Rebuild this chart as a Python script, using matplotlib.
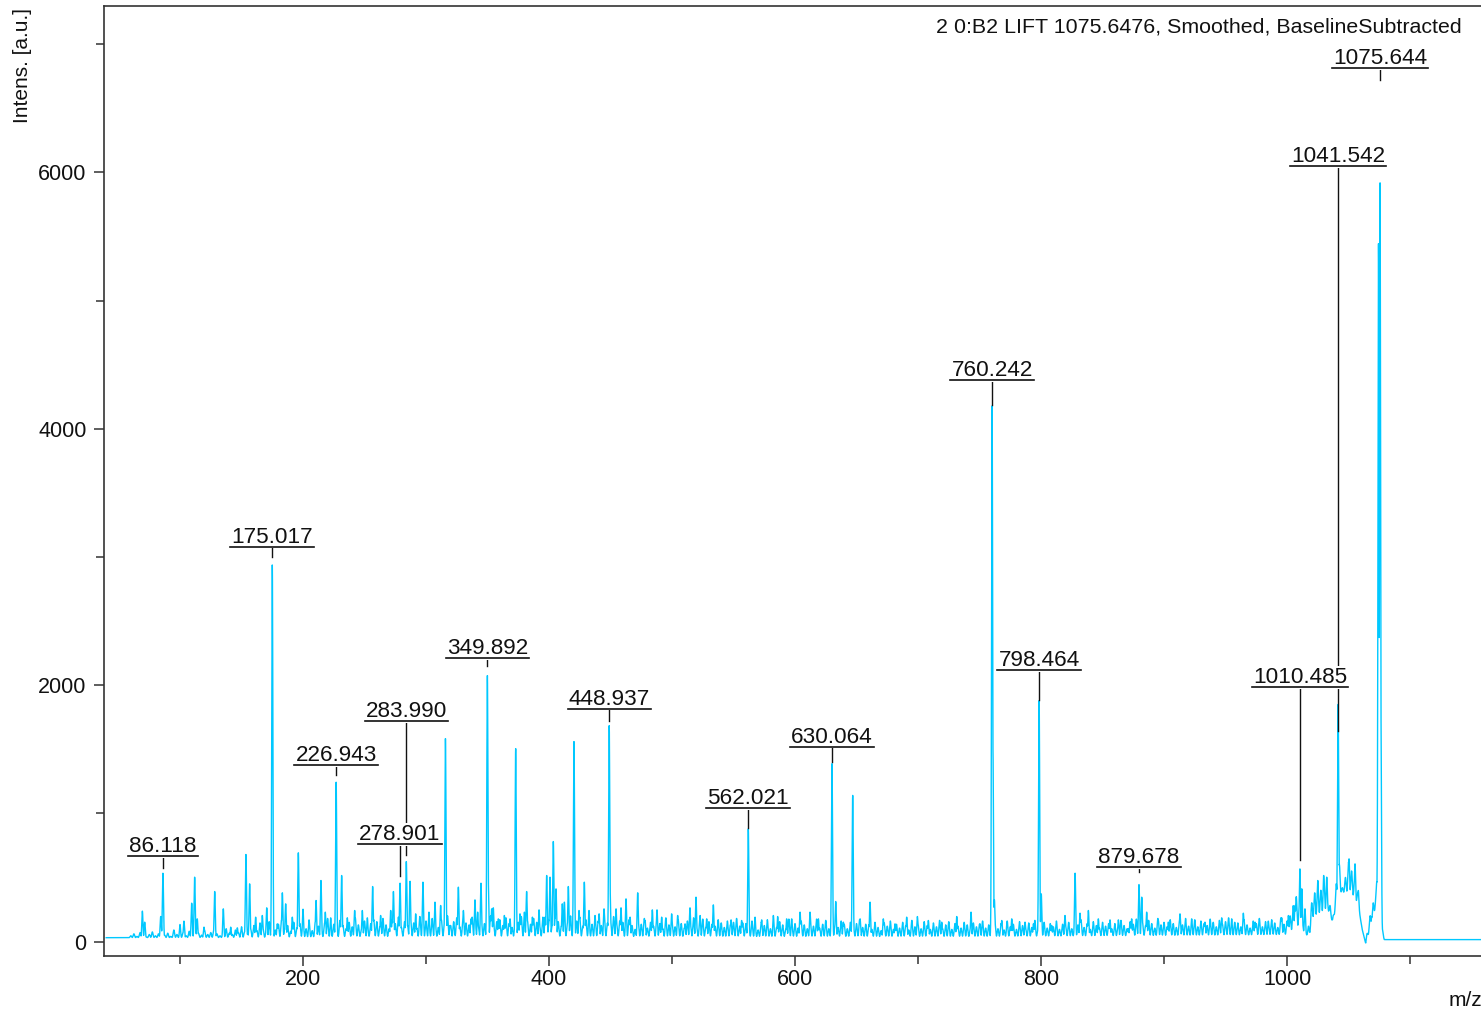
import numpy as np
import matplotlib
matplotlib.use("Agg")
import matplotlib.pyplot as plt
from matplotlib.ticker import MultipleLocator

plt.rcParams['font.family'] = ['Liberation Sans', 'DejaVu Sans']

# ---------------- data ----------------
# labelled peaks
label_mz = [86.118, 175.017, 226.943, 278.901, 283.990, 349.892, 448.937,
            562.021, 630.064, 760.242, 798.464, 879.678, 1010.485, 1041.542, 1075.644]
label_text = ["86.118", "175.017", "226.943", "278.901", "283.990", "349.892", "448.937",
              "562.021", "630.064", "760.242", "798.464", "879.678", "1010.485", "1041.542", "1075.644"]
label_int = [533, 2940, 1243, 455, 624, 2075, 1685, 880, 1388, 4180, 1880, 445, 567, 1850, 5920]
# height of the label underline and bottom end of its leader line
label_top = [667, 3082, 1377, 761, 1720, 2209, 1818, 1038, 1521, 4381, 2118, 581, 1986, 6052, 6815]
label_end = [573, 3000, 1299, 511, 675, 2146, 1724, 882, 1404, 4186, 1884, 542, 636, 1642, 6722]

# other (unlabelled) peaks
other_mz = [315.8, 372.9, 403.5, 420.3, 646.9, 827.7, 153.6, 196.2, 111.9, 760.9,
            1074.4, 1076.3, 1041.9,
            69.4, 71.3, 84.3, 100.0, 103.2, 109.5, 114.0, 119.5, 128.2, 135.2, 141.2,
            146.6, 156.6, 161.5, 166.9, 170.5, 179.1, 183.2, 185.9, 191.3, 200.0,
            204.9, 210.6, 214.6, 218.1, 222.5, 231.4, 236.0, 242.0, 248.2, 252.3,
            256.6, 263.1, 271.3, 273.5, 287.0, 291.6, 297.5, 302.4, 307.3, 311.9,
            319.5, 326.3, 330.4, 336.6, 339.8, 342.0, 344.7, 350.5, 353.4, 354.7,
            358.8, 363.7, 368.3, 376.4, 380.0, 381.8, 386.5, 391.9, 396.8, 398.1,
            400.8, 405.7, 410.8, 412.5, 415.7, 424.4, 428.7, 432.5, 437.4, 440.7,
            444.7, 449.6, 454.5, 458.5, 462.6, 465.9, 472.1, 478.1, 484.0, 487.8,
            491.6, 499.7, 504.6, 510.6, 514.6, 519.5, 522.8, 528.2, 533.6, 537.7,
            548.0, 552.6, 556.6, 567.5, 572.9, 582.4, 585.9, 593.2, 597.3, 604.1,
            612.2, 619.0, 633.1, 639.3, 652.9, 661.0, 671.8, 681.3, 690.8, 699.5,
            708.4, 719.3, 731.5, 743.1, 750.4, 762.1, 768.1, 776.2, 787.0, 793.8,
            800.2, 808.7, 819.5, 831.7, 838.5, 846.6, 856.1, 862.9, 871.0, 873.7,
            881.9, 885.9, 895.4, 903.5, 913.0, 922.5, 933.3, 946.9, 955.0, 964.5,
            974.0, 984.8, 995.7, 1001.1, 1006.5, 1012.0, 1014.6, 1025.0, 1029.8, 1032.3,
            1047.2, 1050.4, 1055.3, 1058.0, 1068.8, 1072.9]
other_int = [1583, 1505, 780, 1560, 1140, 533, 679, 692, 502, 1500,
             5445, 1830, 710,
             237, 151, 195, 133, 159, 299, 177, 112, 390, 255, 112,
             107, 450, 190, 203, 263, 138, 380, 294, 190, 252,
             169, 320, 476, 229, 185, 515, 185, 242, 242, 185,
             429, 203, 242, 390, 470, 216, 463, 229, 307, 281,
             125, 424, 242, 177, 325, 229, 455, 515, 255, 263,
             177, 203, 177, 216, 229, 390, 190, 247, 190, 515,
             502, 411, 294, 307, 429, 242, 463, 242, 203, 216,
             255, 411, 255, 263, 333, 190, 380, 164, 247, 247,
             190, 216, 203, 138, 263, 346, 203, 177, 286, 138,
             169, 169, 164, 190, 169, 203, 195, 177, 177, 229,
             229, 177, 312, 151, 177, 307, 177, 138, 190, 195,
             164, 151, 195, 229, 138, 325, 164, 177, 151, 138,
             372, 125, 203, 221, 242, 177, 169, 169, 99, 177,
             346, 229, 164, 151, 216, 177, 151, 185, 177, 221,
             151, 159, 185, 203, 281, 411, 255, 476, 515, 502,
             320, 645, 606, 398, 190, 463]

# background noise tops, one every 2.5 m/z starting at m/z 60
noise_start, noise_step = 60.0, 2.5
noise_int = [
    45, 60, 40, 70, 50, 35, 55, 75, 45, 60, 85, 50, 65, 40, 90, 55, 50, 70, 45, 80,
    60, 95, 65, 50, 85, 55, 70, 90, 60, 45, 75, 100, 65, 55, 90, 70, 115, 75, 60, 95,
    125, 85, 145, 100, 75, 155, 115, 90, 135, 165, 95, 125, 80, 150, 105, 140, 175, 100, 130, 85,
    155, 120, 95, 145, 180, 110, 135, 90, 165, 125, 100, 150, 115, 185, 130, 95, 160, 105, 140, 170,
    155, 115, 180, 130, 100, 165, 140, 190, 110, 155, 125, 175, 145, 105, 195, 135, 160, 120, 180, 150,
    110, 170, 140, 200, 125, 155, 185, 115, 165, 145, 130, 190, 155, 120, 175, 140, 165, 200, 130, 155,
    170, 125, 185, 140, 110, 175, 150, 195, 120, 160, 135, 180, 150, 115, 190, 140, 165, 125, 185, 155,
    120, 175, 145, 200, 130, 160, 190, 120, 170, 150, 135, 185, 160, 125, 180, 145, 170, 195, 135, 160,
    150, 110, 170, 125, 95, 160, 135, 180, 105, 150, 120, 165, 140, 100, 185, 130, 150, 115, 170, 140,
    105, 160, 130, 185, 115, 145, 175, 110, 155, 135, 120, 170, 145, 110, 160, 130, 150, 180, 120, 145,
    140, 100, 160, 115, 90, 150, 125, 170, 100, 140, 110, 155, 130, 95, 175, 120, 140, 105, 160, 130,
    100, 150, 120, 175, 105, 135, 165, 100, 145, 125, 110, 160, 135, 100, 150, 120, 140, 170, 110, 135,
    130, 95, 150, 110, 85, 145, 120, 160, 95, 135, 105, 150, 125, 90, 165, 115, 135, 100, 155, 125,
    95, 145, 115, 165, 100, 130, 155, 95, 140, 120, 105, 150, 130, 95, 145, 115, 135, 160, 105, 130,
    120, 150, 100, 140, 90, 160, 115, 135, 95, 155, 125, 100, 145, 110, 165, 90, 130, 150, 105, 140,
    115, 160, 95, 135, 120, 150, 100, 145, 130, 170, 110, 140, 95, 155, 125, 105, 150, 120, 140, 100,
    140, 110, 165, 125, 100, 155, 135, 175, 110, 150, 125, 165, 140, 105, 180, 130, 150, 115, 170, 140,
    110, 160, 130, 180, 120, 150, 170, 115, 160, 140, 125, 175, 150, 115, 165, 135, 155, 185, 125, 150,
    145, 115, 170, 130, 105, 160, 140, 180, 115, 155, 130, 170, 145, 110, 185, 135, 160, 200, 280, 350,
    260, 150, 70, 120, 300, 380, 450, 400, 480, 350, 280, 200, 450, 600, 420, 500, 620, 550, 480, 380,
    150, 40, 60, 200, 300, 380, 450, 100]

# baseline level under the noise
base_mz = [40, 60, 130, 170, 250, 350, 450, 550, 650, 750, 850, 950, 1000, 1008,
           1016, 1018, 1021, 1033, 1037, 1043, 1052, 1058, 1061, 1064, 1067, 1071,
           1073.5, 1077.5, 1079, 1170]
base_int = [30, 30, 30, 30, 35, 35, 35, 35, 35, 35, 40, 45, 50, 120,
            50, 30, 180, 250, 150, 380, 380, 280, 100, -20, 80, 220,
            380, 60, 15, 15]

x_ticks = [200, 400, 600, 800, 1000]
y_ticks = [0, 2000, 4000, 6000]
title_text = "2 0:B2 LIFT 1075.6476, Smoothed, BaselineSubtracted"

# ---------------- build spectrum trace ----------------
mz = np.arange(40.0, 1170.0, 0.05)
base = np.interp(mz, base_mz, base_int)
noise_mz = noise_start + noise_step * np.arange(len(noise_int))
pk_mz = np.concatenate([label_mz, other_mz, noise_mz])
pk_h = np.concatenate([label_int, other_int, noise_int]).astype(float)
sig = np.concatenate([np.full(len(label_mz) + len(other_mz), 0.45),
                      np.full(len(noise_int), 0.55)])
amp = np.maximum(pk_h - np.interp(pk_mz, base_mz, base_int), 0)
top = np.zeros_like(mz)
for m, a, s in zip(pk_mz, amp, sig):
    sl = np.abs(mz - m) < 5 * s
    top[sl] = np.maximum(top[sl], a * np.exp(-0.5 * ((mz[sl] - m) / s) ** 2))
spec = base + top

# ---------------- figure ----------------
W, H = 1481, 1015
fig = plt.figure(figsize=(W / 100, H / 100), dpi=100)
x0, x1 = 38.2, 1165.0
px_per = 1.23
ax_left = 104 / W
ax_w = (x1 - x0) * px_per / W
ax_bot = 1 - 955.5 / H
ax_top = 1 - 6 / H
ax = fig.add_axes([ax_left, ax_bot, ax_w, ax_top - ax_bot])
ax.set_xlim(x0, x1)
ax.set_ylim(-109, 7299)

spine_c = '#333333'
for s in ['left', 'bottom', 'top', 'right']:
    ax.spines[s].set_color(spine_c)
    ax.spines[s].set_linewidth(1.2)

ax.plot(mz, spec, color='#00C8FF', lw=1.0, zorder=2)

ax.set_xticks(x_ticks)
ax.set_yticks(y_ticks)
ax.xaxis.set_minor_locator(MultipleLocator(100))
ax.yaxis.set_minor_locator(MultipleLocator(1000))
ax.tick_params(axis='both', which='major', direction='out', length=7.5, width=1.1,
               color=spine_c, labelsize=15.5, labelcolor='#111111')
ax.tick_params(axis='both', which='minor', direction='out', length=5.5, width=1.1,
               color=spine_c)
ax.tick_params(axis='x', pad=2)
ax.tick_params(axis='y', pad=5)

fig.text(23 / W, 1 - 8 / H, "Intens. [a.u.]", rotation=90, ha='center', va='top',
         fontsize=15, color='#111111')
fig.text(1449 / W, 1 - 1000 / H, "m/z", ha='left', va='center', fontsize=15, color='#111111')
fig.text(936 / W, 1 - 27 / H, title_text, ha='left', va='center', fontsize=15.4, color='#111111')

# annotations
texts = []
for m, t, top_i, end in zip(label_mz, label_text, label_top, label_end):
    ax.plot([m, m], [top_i, end], color='#111111', lw=1.0, zorder=3)
    tx = ax.annotate(t, xy=(m, top_i), xytext=(0, 4), textcoords='offset pixels',
                     ha='center', va='baseline', fontsize=16.2, color='#111111',
                     zorder=5, bbox=dict(fc='white', ec='none', pad=0.5))
    texts.append(tx)

fig.canvas.draw()
r = fig.canvas.get_renderer()
inv = ax.transData.inverted()
for tx, top_i in zip(texts, label_top):
    bb = tx.get_window_extent(r)
    xa = inv.transform((bb.x0 - 1, 0))[0]
    xb = inv.transform((bb.x1 + 1, 0))[0]
    ax.plot([xa, xb], [top_i, top_i], color='#111111', lw=1.2, zorder=6)

fig.savefig("out.png", dpi=100)
